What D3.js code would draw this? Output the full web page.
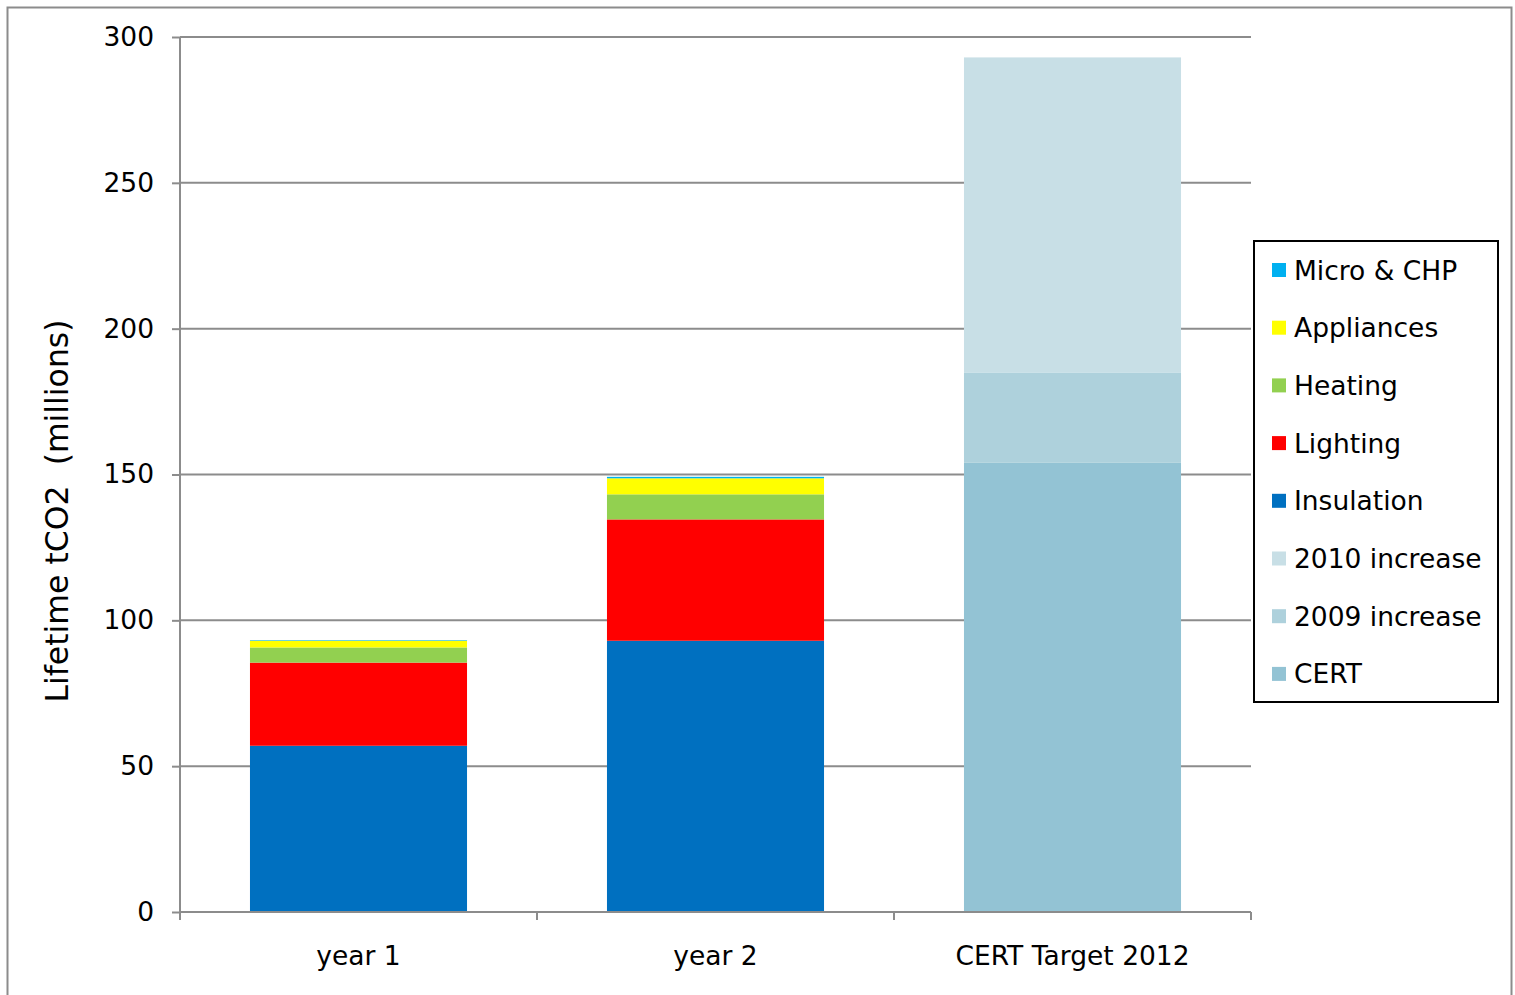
<!DOCTYPE html>
<html><head><meta charset="utf-8">
<script src="https://cdn.jsdelivr.net/npm/d3@7"></script>
<style>body{margin:0;background:#fff}svg{display:block}text{font-family:"DejaVu Sans",Verdana,sans-serif;fill:#000}</style>
</head><body>
<svg id="c" width="1515" height="995"></svg>
<script>
const categories = ["year 1", "year 2", "CERT Target 2012"];
const seriesNames = ["CERT", "2009 increase", "2010 increase", "Insulation", "Lighting", "Heating", "Appliances", "Micro & CHP"];
const seriesColors = ["#93C3D4", "#AED1DC", "#C8DFE6", "#0070C0", "#FF0000", "#92D050", "#FFFF00", "#00B0F0"];
const CERT = [0, 0, 154];
const inc2009 = [0, 0, 31];
const inc2010 = [0, 0, 108];
const Insulation = [57, 93, 0];
const Lighting = [28.5, 41.6, 0];
const Heating = [5.2, 8.6, 0];
const Appliances = [2.3, 5.5, 0];
const MicroCHP = [0.2, 0.5, 0];
const yTicks = [0, 50, 100, 150, 200, 250, 300];
const legendOrder = ["Micro & CHP", "Appliances", "Heating", "Lighting", "Insulation", "2010 increase", "2009 increase", "CERT"];

const seriesVals = [CERT, inc2009, inc2010, Insulation, Lighting, Heating, Appliances, MicroCHP];
const rows = categories.map((c, i) => {
  const r = {cat: c};
  seriesNames.forEach((s, j) => r[s] = seriesVals[j][i]);
  return r;
});
const stack = d3.stack().keys(seriesNames)(rows);
const color = d3.scaleOrdinal().domain(seriesNames).range(seriesColors);

const svg = d3.select("#c");
svg.append("rect").attr("x", 7.5).attr("y", 7.5).attr("width", 1504).attr("height", 1000)
  .attr("fill", "none").attr("stroke", "#8c8c8c").attr("stroke-width", 2);

const L = 180, R = 1251, T = 37, B = 912;
const x = d3.scaleBand().domain(categories).range([L, R]).paddingInner(0.392).paddingOuter(0.196);
const y = d3.scaleLinear().domain([0, 300]).range([B, T]);

// gridlines
svg.append("g").selectAll("line").data(yTicks.filter(d => d > 0)).join("line")
  .attr("x1", L).attr("x2", R).attr("y1", d => y(d)).attr("y2", d => y(d))
  .attr("stroke", "#8c8c8c").attr("stroke-width", 2);

// bars
svg.append("g").selectAll("g").data(stack).join("g").attr("fill", d => color(d.key))
  .selectAll("rect").data(d => d.filter(p => p[1] - p[0] > 0)).join("rect")
  .attr("x", d => x(d.data.cat)).attr("width", x.bandwidth())
  .attr("y", d => y(d[1])).attr("height", d => y(d[0]) - y(d[1]));

// y axis
const ya = svg.append("g").attr("transform", `translate(${L},0)`)
  .call(d3.axisLeft(y).tickValues(yTicks).tickSize(8).tickPadding(18));
ya.select(".domain").attr("stroke", "#8c8c8c").attr("stroke-width", 2).attr("d", `M0,${T}V${B}`);
ya.selectAll(".tick line").attr("stroke", "#8c8c8c").attr("stroke-width", 2);
ya.selectAll(".tick text").attr("font-size", 26.5).attr("font-family", "DejaVu Sans").attr("fill", "#000");

// x axis
const xa = svg.append("g").attr("transform", `translate(0,${B})`);
xa.append("line").attr("x1", L).attr("x2", R).attr("stroke", "#8c8c8c").attr("stroke-width", 2);
const bounds = [L, ...categories.map(c => x(c) + x.bandwidth() + x.step() * x.paddingInner() / 2)];
xa.selectAll(".xt").data(bounds).join("line").attr("class", "xt")
  .attr("x1", d => d).attr("x2", d => d).attr("y1", 0).attr("y2", 8)
  .attr("stroke", "#8c8c8c").attr("stroke-width", 2);
xa.selectAll("text").data(categories).join("text")
  .attr("x", d => x(d) + x.bandwidth() / 2).attr("y", 53).attr("text-anchor", "middle")
  .attr("font-size", 26.5).text(d => d);

// y title
svg.append("text").attr("transform", "translate(68,511) rotate(-90)").attr("text-anchor", "middle")
  .attr("font-size", 31.5).attr("xml:space", "preserve").style("white-space", "pre").text("Lifetime tCO2  (millions)");

// legend
const lg = svg.append("g");
lg.append("rect").attr("x", 1254).attr("y", 241).attr("width", 244).attr("height", 461)
  .attr("fill", "#fff").attr("stroke", "#000").attr("stroke-width", 2);
const li = lg.selectAll("g.li").data(legendOrder).join("g").attr("class", "li")
  .attr("transform", (d, i) => `translate(1272,${270 + i * 57.7})`);
li.append("rect").attr("x", 0).attr("y", -7).attr("width", 14).attr("height", 14).attr("fill", d => color(d));
li.append("text").attr("x", 22).attr("y", 9.5).attr("font-size", 26.5).text(d => d);
</script>
</body></html>
